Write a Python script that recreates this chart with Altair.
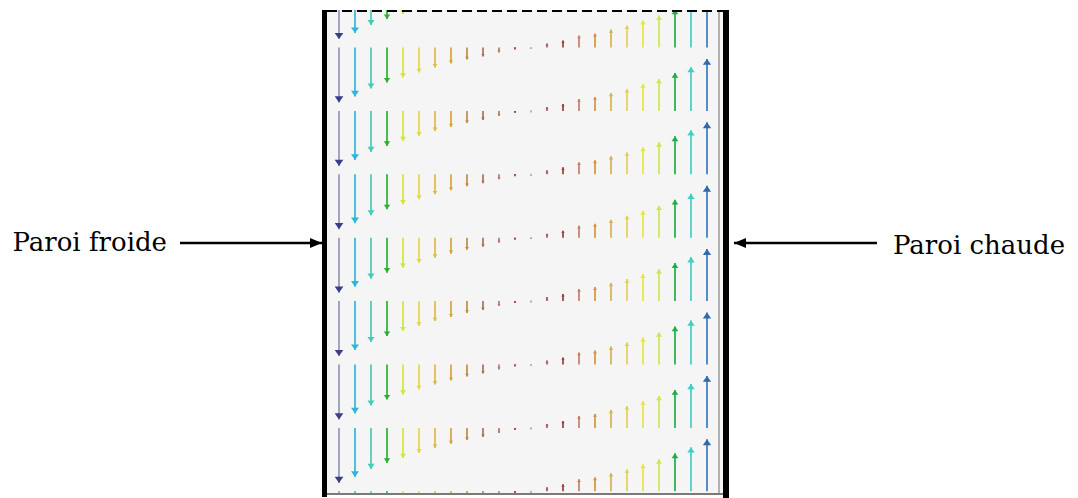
import altair as alt
import pandas as pd

# ---- data ----
colonnes = list(range(24))          # vertical lines of the vector grid (left -> right)
rangees = list(range(-1, 9))        # horizontal rows of the vector grid (top -> bottom)
# vertical velocity per column (up = positive), arbitrary units (~px of arrow length)
vitesse = [-55, -49, -41, -35, -30, -25, -20, -16, -12, -9, -5, -2,
           0.5, 4, 7, 12, 14, 18, 22, 27, 32, 38, 44, 52]
couleurs = ["#9495b4", "#2fb6d6", "#46ccb6", "#2fae35", "#d2e634", "#e2d84c",
            "#dcbc44", "#d4a63c", "#c08c44", "#a87060", "#b27c6a", "#a04a4a",
            "#a89898", "#a85a62", "#9a3c3c", "#c0806a", "#d09444", "#d8b250",
            "#e2d05c", "#e8e63e", "#cfe650", "#1fae44", "#3fcfc6", "#3a7ab8"]
couleurs_tete = ["#3a3d8a"] + couleurs[1:23] + ["#2f6aaa"]
etiquettes = ["Paroi froide", "Paroi chaude"]

# ---- layout ----
W, H = 396, 484
XMIN, XMAX = -0.75, 24.0
YMIN, YMAX = -0.5915, 7.0426
ECHELLE = 1 / 63.4   # row units per velocity unit

xs = alt.Scale(domain=[XMIN, XMAX], nice=False, zero=False)
ys = alt.Scale(domain=[YMIN, YMAX], nice=False, zero=False, reverse=True)

df = pd.DataFrame([{"col": c, "row": r, "v": vitesse[c], "c": couleurs[c],
                    "ct": couleurs_tete[c]} for c in colonnes for r in rangees])

base = alt.Chart(df).transform_calculate(
    y_fin="datum.row - datum.v * %f" % ECHELLE,
    taille="4 * pow(1.8 + 0.08 * abs(datum.v), 2)",
)

tiges = base.mark_rule(clip=True, strokeWidth=1.7).encode(
    x=alt.X("col:Q", scale=xs, axis=None),
    y=alt.Y("row:Q", scale=ys, axis=None),
    y2="y_fin:Q",
    color=alt.Color("c:N", scale=None),
)

def tetes(cond, path):
    return base.transform_filter(cond).mark_point(
        clip=True, filled=True, opacity=1, strokeWidth=0, shape=path).encode(
        x=alt.X("col:Q", scale=xs, axis=None),
        y=alt.Y("y_fin:Q", scale=ys, axis=None),
        size=alt.Size("taille:Q", scale=None),
        color=alt.Color("ct:N", scale=None),
    )

tetes_bas = tetes("datum.v < 0", "M0,0L-0.7,-1L0.7,-1Z")
tetes_haut = tetes("datum.v >= 0", "M0,0L-0.7,1L0.7,1Z")

# frame of the cavity
cadre_df = pd.DataFrame({
    "nom": ["mur_g", "mur_d", "ligne_d", "haut", "bas"],
    "x": [XMIN, XMAX, 23.75, XMIN, XMIN],
    "x2": [XMIN, XMAX, 23.75, XMAX, XMAX],
    "y": [YMIN, YMIN, YMIN, YMIN, YMAX],
    "y2": [YMAX, YMAX, YMAX, YMIN, YMAX],
})

def cadre(nom, **kw):
    return alt.Chart(cadre_df).transform_filter(
        alt.datum.nom == nom).mark_rule(**kw).encode(
        x=alt.X("x:Q", scale=xs, axis=None), x2="x2:Q",
        y=alt.Y("y:Q", scale=ys, axis=None), y2="y2:Q")

mur_g = cadre("mur_g", color="black", strokeWidth=5, xOffset=-2.5, x2Offset=-2.5, y2Offset=3)
mur_d = cadre("mur_d", color="black", strokeWidth=6, xOffset=3, x2Offset=3, y2Offset=4)
ligne_d = cadre("ligne_d", color="#9a9a9a", strokeWidth=1.5)
haut = cadre("haut", color="black", strokeWidth=2, strokeDash=[10, 5], yOffset=1, y2Offset=1)
bas = cadre("bas", color="#7a7a7a", strokeWidth=2)

# annotation arrows and labels
ann = pd.DataFrame({
    "texte": etiquettes,
    "tx": [-10.75, 34.625],
    "ty": [3.21, 3.25],
    "x0": [-9.9375, 33.625],
    "x1": [-1.0625, 24.6875],
    "ya": [3.0836, 3.0836],
})

def label(i, align):
    return alt.Chart(ann.iloc[[i]]).mark_text(
        font="DejaVu Serif", fontSize=26, align=align, baseline="alphabetic",
        color="#000").encode(
        x=alt.X("tx:Q", scale=xs, axis=None), y=alt.Y("ty:Q", scale=ys, axis=None),
        text="texte:N")

def fleche_tete(i, path):
    return alt.Chart(ann.iloc[[i]]).mark_point(
        filled=True, opacity=1, strokeWidth=0, color="#000", size=576, shape=path).encode(
        x=alt.X("x1:Q", scale=xs, axis=None), y=alt.Y("ya:Q", scale=ys, axis=None))

fl_tige = alt.Chart(ann).mark_rule(color="#000", strokeWidth=2.5).encode(
    x=alt.X("x0:Q", scale=xs, axis=None), x2="x1:Q", y=alt.Y("ya:Q", scale=ys, axis=None))

chart = alt.layer(
    tiges, tetes_bas, tetes_haut, ligne_d, haut, bas, mur_g, mur_d,
    fl_tige, fleche_tete(0, "M0,0L-1,-0.42L-1,0.42Z"), fleche_tete(1, "M0,0L1,-0.42L1,0.42Z"),
    label(0, "right"), label(1, "left"),
).properties(
    width=W, height=H,
    autosize=alt.AutoSizeParams(type="none"),
    padding={"left": 319, "top": 2, "right": 347, "bottom": 4},
    background="white",
).configure_view(fill="#f5f5f5", strokeWidth=0)

chart.save("out.html", embed_options={"renderer": "svg", "actions": False})
